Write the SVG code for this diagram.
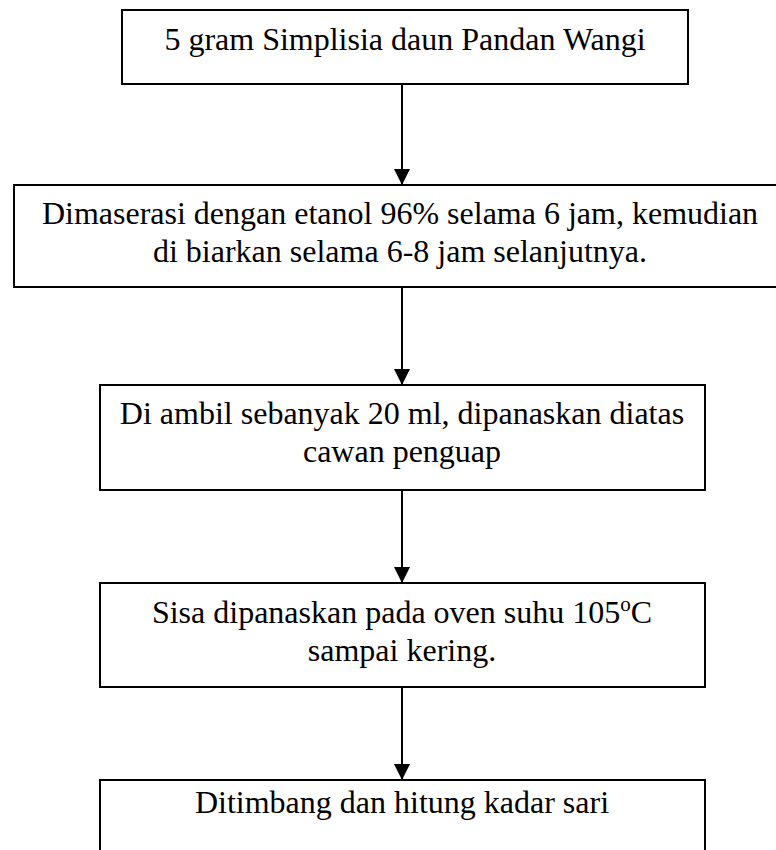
<svg xmlns="http://www.w3.org/2000/svg" width="776" height="850" viewBox="0 0 776 850">
  <style>
    .box { fill: #ffffff; stroke: #000000; stroke-width: 2; }
    .lbl { font-family: "Liberation Serif", "Times New Roman", serif; font-size: 32px; fill: #000000; text-anchor: middle; }
    .flow { stroke: #000000; stroke-width: 2; fill: none; marker-end: url(#arrow); }
  </style>
  <defs>
    <marker id="arrow" markerUnits="userSpaceOnUse" markerWidth="16" markerHeight="16" refX="16" refY="8" orient="auto">
      <path d="M0,0 L16,8 L0,16 Z" fill="#000000"/>
    </marker>
  </defs>
  <rect width="776" height="850" fill="#ffffff"/>

  <g id="step1">
    <rect class="box" x="122" y="10" width="566" height="74"/>
    <text class="lbl" x="405" y="50">5 gram Simplisia daun Pandan Wangi</text>
  </g>

  <g id="step2">
    <rect class="box" x="14" y="185" width="764" height="102"/>
    <text class="lbl" x="400" y="224">Dimaserasi dengan etanol 96% selama 6 jam, kemudian</text>
    <text class="lbl" x="400" y="262">di biarkan selama 6-8 jam selanjutnya.</text>
  </g>

  <g id="step3">
    <rect class="box" x="100" y="385" width="605" height="105"/>
    <text class="lbl" x="402" y="424">Di ambil sebanyak 20 ml, dipanaskan diatas</text>
    <text class="lbl" x="402" y="462">cawan penguap</text>
  </g>

  <g id="step4">
    <rect class="box" x="100" y="583" width="605" height="104"/>
    <text class="lbl" x="402" y="623">Sisa dipanaskan pada oven suhu 105<tspan font-size="21" dy="-12">o</tspan><tspan dy="12">C</tspan></text>
    <text class="lbl" x="402" y="661">sampai kering.</text>
  </g>

  <g id="step5">
    <rect class="box" x="100" y="780" width="605" height="90"/>
    <text class="lbl" x="402" y="813">Ditimbang dan hitung kadar sari</text>
  </g>

  <g id="connectors">
    <line class="flow" x1="402" y1="84" x2="402" y2="185"/>
    <line class="flow" x1="402" y1="287" x2="402" y2="385"/>
    <line class="flow" x1="402" y1="490" x2="402" y2="583"/>
    <line class="flow" x1="402" y1="687" x2="402" y2="780"/>
  </g>
</svg>
